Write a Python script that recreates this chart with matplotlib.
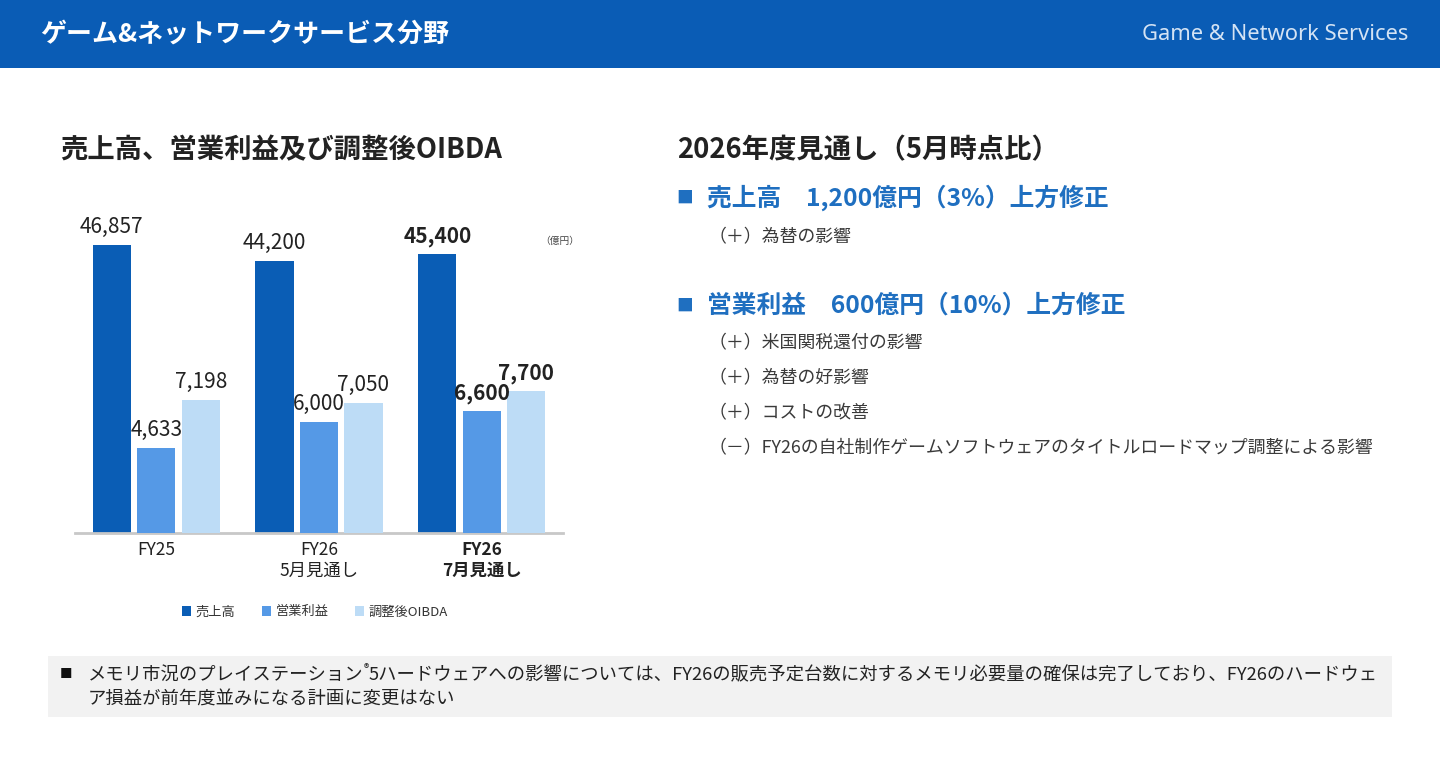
import matplotlib
matplotlib.use("Agg")
import matplotlib.pyplot as plt
from matplotlib.patches import Rectangle, Patch

plt.rcParams['font.family'] = ['Noto Sans CJK JP', 'DejaVu Sans']

# ---- data ----
categories = ["FY25", "FY26\n5月見通し", "FY26\n7月見通し"]
sales = [46857, 44200, 45400]
op_income = [4633, 6000, 6600]
oibda = [7198, 7050, 7700]
sales_labels = ["46,857", "44,200", "45,400"]
op_labels = ["4,633", "6,000", "6,600"]
oibda_labels = ["7,198", "7,050", "7,700"]
series_names = ["売上高", "営業利益", "調整後OIBDA"]
bold_flags = [False, False, True]

W, H = 1440, 773
fig = plt.figure(figsize=(W / 100, H / 100), dpi=100)
fig.patch.set_facecolor("white")

def fx(px):
    return px / W

def fy(py):
    return 1 - py / H

C_DARK = "#0a5db5"
C_MID = "#5599e6"
C_LIGHT = "#bddcf6"
C_BLUE_TXT = "#1f6fc0"
C_TXT = "#222222"
C_SUB = "#3a3a3a"

# header band
fig.patches.append(Rectangle((0, fy(68)), 1, 68 / H, transform=fig.transFigure,
                             facecolor="#0a5cb5", edgecolor="none", zorder=0))
fig.text(fx(40), fy(34), "ゲーム&ネットワークサービス分野", color="white",
         fontsize=18.7, fontweight="bold", va="center", ha="left")
fig.text(fx(1408), fy(34), "Game & Network Services", color="#d4e3f4",
         fontsize=15.8, va="center", ha="right", family=["Noto Sans", "DejaVu Sans"])

# headings
fig.text(fx(60), fy(150), "売上高、営業利益及び調整後OIBDA", color=C_TXT,
         fontsize=19.7, fontweight="bold", va="center", ha="left")
fig.text(fx(677), fy(150), "2026年度見通し（5月時点比）", color=C_TXT,
         fontsize=19.7, fontweight="bold", va="center", ha="left")

# right side bullets
fig.text(fx(676), fy(198), "■", color=C_BLUE_TXT, fontsize=12, va="center", ha="left")
fig.text(fx(707), fy(198), "売上高　1,200億円（3%）上方修正", color=C_BLUE_TXT,
         fontsize=17.8, fontweight="bold", va="center", ha="left")
fig.text(fx(709), fy(237), "（＋）為替の影響", color=C_SUB, fontsize=12.9,
         va="center", ha="left")
fig.text(fx(676), fy(306), "■", color=C_BLUE_TXT, fontsize=12, va="center", ha="left")
fig.text(fx(707), fy(306), "営業利益　600億円（10%）上方修正", color=C_BLUE_TXT,
         fontsize=17.8, fontweight="bold", va="center", ha="left")
subs = ["（＋）米国関税還付の影響", "（＋）為替の好影響", "（＋）コストの改善",
        "（－）FY26の自社制作ゲームソフトウェアのタイトルロードマップ調整による影響"]
for i, s in enumerate(subs):
    fig.text(fx(709), fy(343 + 35 * i), s, color=C_SUB, fontsize=12.9,
             va="center", ha="left")

# footer box
fig.patches.append(Rectangle((fx(48), fy(717)), fx(1392) - fx(48), (717 - 656) / H,
                             transform=fig.transFigure, facecolor="#f2f2f2",
                             edgecolor="none", zorder=0))
fig.text(fx(60), fy(675), "■", color="#111111", fontsize=9, va="center", ha="left")
renderer = fig.canvas.get_renderer()
t1 = fig.text(fx(88), fy(675), "メモリ市況のプレイステーション",
              color=C_TXT, fontsize=13.2, va="center", ha="left")
x1 = t1.get_window_extent(renderer).x1
t2 = fig.text(x1 / W, fy(669), "®", color=C_TXT, fontsize=8, va="center", ha="left")
x2 = t2.get_window_extent(renderer).x1
fig.text(x2 / W, fy(675),
         "5ハードウェアへの影響については、FY26の販売予定台数に対するメモリ必要量の確保は完了しており、FY26のハードウェ",
         color=C_TXT, fontsize=13.2, va="center", ha="left")
fig.text(fx(88), fy(700), "ア損益が前年度並みになる計画に変更はない",
         color=C_TXT, fontsize=13.2, va="center", ha="left")

# ---- chart ----
ax_left, ax_right, ax_bottom_px, ax_h_px = 75, 563, 533, 369
ax = fig.add_axes([fx(ax_left), fy(ax_bottom_px), (ax_right - ax_left) / W, ax_h_px / H])
ax2 = ax.twinx()

x = list(range(len(categories)))
bw = 0.235
off = 0.273
b1 = ax.bar([v - off for v in x], sales, width=bw, color=C_DARK, zorder=2)
b2 = ax2.bar(x, op_income, width=bw, color=C_MID, zorder=2)
b3 = ax2.bar([v + off for v in x], oibda, width=bw, color=C_LIGHT, zorder=2)

ax.set_xlim(-0.5, 2.5)
ax.set_ylim(0, 60000)
ax2.set_ylim(0, 20000)

for a in (ax, ax2):
    for sp in ("top", "left", "right"):
        a.spines[sp].set_visible(False)
    a.set_yticks([])
    a.patch.set_alpha(0)
ax2.spines["bottom"].set_visible(False)
ax.spines["bottom"].set_color("#c8c8c8")
ax.spines["bottom"].set_linewidth(2)
ax.spines["bottom"].set_zorder(5)

ax.set_xticks(x)
ax.set_xticklabels(categories, fontsize=12.5, color=C_TXT, linespacing=1.15)
ax.tick_params(axis="x", length=0, pad=6)
for lab, b in zip(ax.get_xticklabels(), bold_flags):
    if b:
        lab.set_fontweight("bold")

def label_bars(axis, bars, labels):
    for rect, lab, b in zip(bars, labels, bold_flags):
        axis.annotate(lab, (rect.get_x() + rect.get_width() / 2, rect.get_height()),
                      xytext=(0, 5), textcoords="offset points", ha="center", va="bottom",
                      fontsize=15, color=C_TXT, fontweight="bold" if b else "normal",
                      family=["Noto Sans CJK JP", "DejaVu Sans"])

label_bars(ax, b1, sales_labels)
label_bars(ax2, b2, op_labels)
label_bars(ax2, b3, oibda_labels)

fig.text(fx(560), fy(241), "（億円）", fontsize=7, color="#444444", va="center", ha="center")

handles = [Patch(facecolor=c, edgecolor="none") for c in (C_DARK, C_MID, C_LIGHT)]
fig.legend(handles, series_names, loc="center", bbox_to_anchor=(fx(315), fy(612)),
           ncol=3, frameon=False, fontsize=9.5, handlelength=0.7, handleheight=0.7,
           handletextpad=0.35, columnspacing=2.0, labelcolor="#333333")

fig.savefig("out.png", dpi=100, facecolor="white")
